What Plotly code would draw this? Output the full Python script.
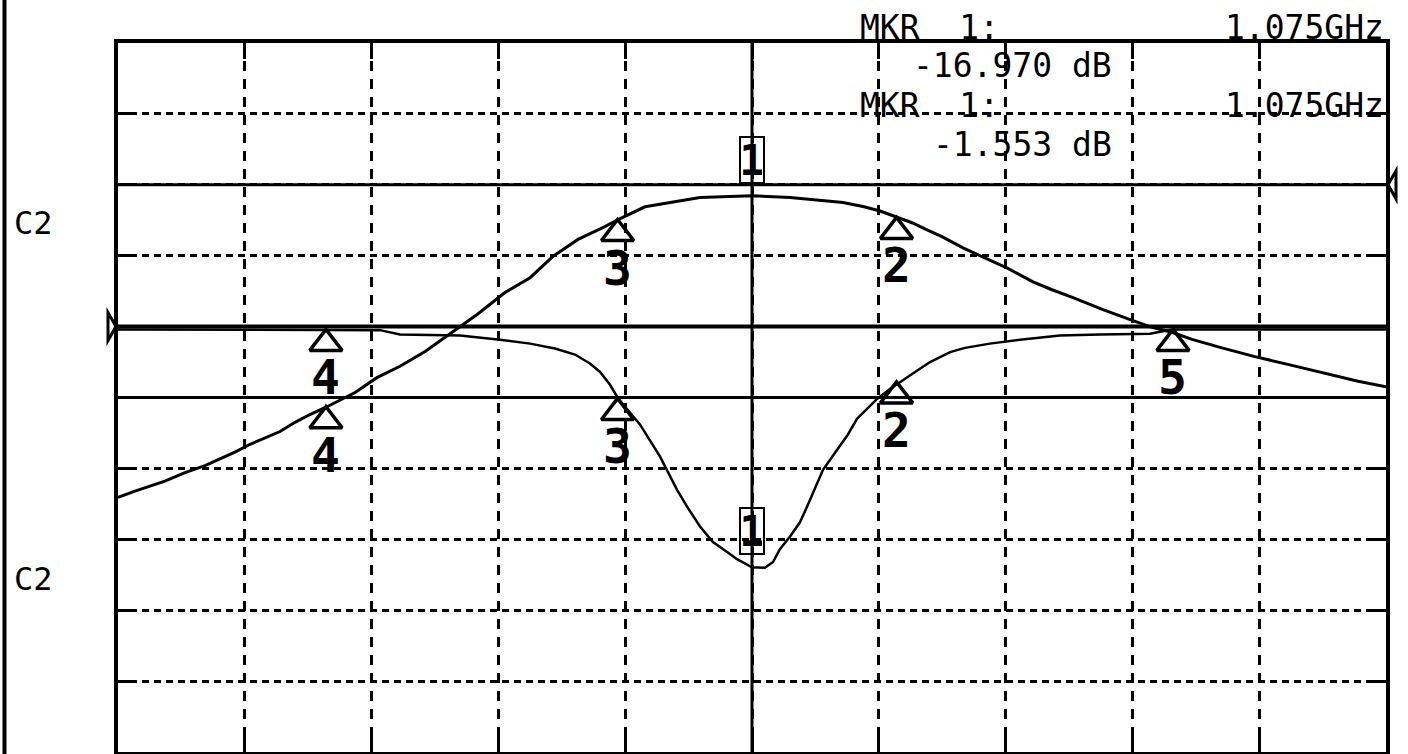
import plotly.graph_objects as go

# sweep: centre 1.075 GHz, 50 MHz/div, 10 divisions
f_start = 0.825
f_stop = 1.325
f_div = 0.05

# upper trace, 10 dB/div, reference 0 dB (right pointer)
up_freq = [0.825, 0.8317, 0.8435, 0.8514, 0.8593, 0.8711, 0.8771, 0.8889, 0.8948, 0.9007,
           0.9074, 0.9185, 0.9271, 0.9362, 0.9461, 0.9571, 0.9666, 0.9776, 0.9875, 0.9965,
           1.0064, 1.0170, 1.0222, 1.0328, 1.0427, 1.0545, 1.075, 1.0900, 1.1109, 1.1192,
           1.1255, 1.1322, 1.1381, 1.1436, 1.1499, 1.1582, 1.1688, 1.1759, 1.1858, 1.1933,
           1.2016, 1.2134, 1.2233, 1.2327, 1.2406, 1.2485, 1.2603, 1.2729, 1.2871, 1.2998,
           1.3140, 1.325]
up_db = [-44.1, -43.2, -41.8, -40.6, -39.6, -37.7, -36.6, -34.8, -33.5, -32.4,
         -31.3, -29.3, -27.2, -25.6, -23.5, -20.7, -18.3, -15.2, -13.1, -10.1,
         -7.7, -5.9, -4.9, -3.1, -2.5, -1.8, -1.553, -1.8, -2.5, -3.1,
         -3.7, -4.6, -5.35, -6.3, -7.3, -8.9, -10.6, -11.8, -13.7, -14.8,
         -15.9, -17.6, -18.9, -20.1, -20.8, -21.8, -23.0, -24.2, -25.4, -26.5,
         -27.7, -28.5]

# lower trace, 5 dB/div, reference 0 dB (left pointer)
lo_freq = [0.825, 0.8771, 0.9283, 0.9362, 0.9599, 0.9756, 0.9875, 0.9973, 1.0052, 1.0111,
           1.0151, 1.0190, 1.0222, 1.0308, 1.0387, 1.0454, 1.0494, 1.0545, 1.0596, 1.0652,
           1.0691, 1.075, 1.0801, 1.0833, 1.0860, 1.0900, 1.0939, 1.0967, 1.0991, 1.1030,
           1.1085, 1.1125, 1.1164, 1.1203, 1.1243, 1.1294, 1.1334, 1.1393, 1.1452, 1.1531,
           1.1590, 1.1688, 1.1807, 1.1964, 1.2122, 1.2319, 1.2406, 1.2714, 1.325]
lo_db = [-0.2, -0.2, -0.25, -0.56, -0.63, -0.92, -1.2, -1.55, -1.97, -2.6,
         -3.2, -4.1, -5.07, -6.9, -9.15, -11.5, -12.7, -14.1, -15.2, -15.9,
         -16.4, -16.97, -17.0, -16.6, -15.7, -14.8, -13.8, -12.7, -11.7, -10.1,
         -8.7, -7.7, -6.5, -5.8, -5.1, -4.4, -3.9, -3.2, -2.5, -1.8,
         -1.5, -1.2, -0.92, -0.63, -0.56, -0.5, -0.2, -0.2, -0.2]

# markers
mkr_id = [1, 2, 3, 4, 5]
mkr_freq = [1.075, 1.132, 1.022, 0.907, 1.241]
mkr_up = [-1.553, -4.6, -4.9, -31.3, None]
mkr_lo = [-16.970, -3.9, -5.07, -0.2, -0.2]

up_range = [-80, 20]
lo_range = [-30, 20]

W, H = 1408, 754
L, R, T, B = 118, 22, 43, 2
plot_w = W - L - R
plot_h = H - T - B


def px_x(px):
    return (px - L) / plot_w


def px_y(py):
    return (H - B - py) / plot_h


tri_size = 28
tri_r = tri_size / 2
up_ppd = plot_h / (up_range[1] - up_range[0])
lo_ppd = plot_h / (lo_range[1] - lo_range[0])

digit_font = dict(family="DejaVu Sans Mono", size=48, color="black", weight="bold")
text_font = dict(family="DejaVu Sans Mono", size=33, color="black")

fig = go.Figure()

fig.add_trace(go.Scatter(x=up_freq, y=up_db, yaxis="y2", mode="lines",
                         line=dict(color="black", width=3), hoverinfo="skip"))
fig.add_trace(go.Scatter(x=lo_freq, y=lo_db, yaxis="y", mode="lines",
                         line=dict(color="black", width=2.5), hoverinfo="skip"))

annotations = []
tri_up_x, tri_up_y, tri_lo_x, tri_lo_y = [], [], [], []
for i, f in enumerate(mkr_freq):
    for val, yref, ppd, xs, ys in [(mkr_up[i], "y2", up_ppd, tri_up_x, tri_up_y),
                                   (mkr_lo[i], "y", lo_ppd, tri_lo_x, tri_lo_y)]:
        if val is None:
            continue
        if mkr_id[i] == 1:
            # active marker: boxed number above the point
            annotations.append(dict(x=f, y=val, xref="x", yref=yref, text="1",
                                    showarrow=False, yanchor="bottom", yshift=12,
                                    width=20, height=42, borderpad=1, borderwidth=2,
                                    bordercolor="black",
                                    font=dict(digit_font, size=42)))
        else:
            xs.append(f)
            ys.append(val - tri_r / ppd)
            annotations.append(dict(x=f, y=val, xref="x", yref=yref, text=str(mkr_id[i]),
                                    showarrow=False, yanchor="top", yshift=-18,
                                    font=digit_font))

tri_marker = dict(symbol="triangle-up-open", size=tri_size, color="black",
                  line=dict(color="black", width=3.5))
fig.add_trace(go.Scatter(x=tri_up_x, y=tri_up_y, yaxis="y2", mode="markers",
                         marker=tri_marker, hoverinfo="skip"))
fig.add_trace(go.Scatter(x=tri_lo_x, y=tri_lo_y, yaxis="y", mode="markers",
                         marker=tri_marker, hoverinfo="skip"))

# marker readout
readout = [
    ("MKR  1:", 858, 27, "left"),
    (f"{mkr_freq[0]:.3f}GHz", 1386, 27, "right"),
    (f"{mkr_lo[0]:.3f} dB", 1114, 66, "right"),
    ("MKR  1:", 858, 106, "left"),
    (f"{mkr_freq[0]:.3f}GHz", 1386, 106, "right"),
    (f"{mkr_up[0]:.3f} dB", 1114, 144, "right"),
    ("C2", 12, 223, "left"),
    ("C2", 12, 579, "left"),
]
for txt, x, y, anchor in readout:
    annotations.append(dict(x=px_x(x), y=px_y(y), xref="paper", yref="paper", text=txt,
                            showarrow=False, xanchor=anchor, yanchor="middle",
                            font=text_font if txt != "C2" else dict(text_font, size=32)))

line = dict(color="black", width=3)
shapes = [
    # centre frequency line
    dict(type="line", xref="x", yref="paper", x0=1.075, x1=1.075, y0=0, y1=1, line=line),
    # reference lines
    dict(type="line", xref="paper", yref="y2", x0=0, x1=1, y0=0, y1=0, line=line),
    dict(type="line", xref="paper", yref="y", x0=0, x1=1, y0=0, y1=0,
         line=dict(color="black", width=4)),
    dict(type="line", xref="paper", yref="y", x0=0, x1=1, y0=-5, y1=-5, line=line),
    # left border of the screen
    dict(type="line", xref="paper", yref="paper", x0=px_x(4.5), x1=px_x(4.5),
         y0=px_y(H + 2), y1=px_y(-2), line=dict(color="black", width=4)),
    # reference pointers
    dict(type="path", xref="paper", yref="y", xsizemode="pixel", ysizemode="pixel",
         xanchor=0, yanchor=0, path="M -10,-14 L -10,14 L -2,0 Z",
         line=dict(color="black", width=3)),
    dict(type="path", xref="paper", yref="y2", xsizemode="pixel", ysizemode="pixel",
         xanchor=1, yanchor=0, path="M 10,-14 L 10,14 L 2,0 Z",
         line=dict(color="black", width=3)),
]

fig.update_layout(
    width=W, height=H,
    margin=dict(l=L, r=R, t=T, b=B),
    paper_bgcolor="white", plot_bgcolor="white",
    showlegend=False,
    annotations=annotations,
    shapes=shapes,
    xaxis=dict(range=[f_start, f_stop], tick0=f_start, dtick=f_div,
               showgrid=True, gridcolor="black", gridwidth=3, griddash="10px,8px",
               ticks="inside", ticklen=16, tickwidth=3, tickcolor="black",
               showticklabels=False, showline=True, linewidth=4, linecolor="black",
               mirror="ticks", zeroline=False, fixedrange=True),
    yaxis=dict(range=lo_range, tick0=0, dtick=5,
               showgrid=True, gridcolor="black", gridwidth=3, griddash="7px,5px",
               ticks="inside", ticklen=16, tickwidth=3, tickcolor="black",
               showticklabels=False, showline=True, linewidth=4, linecolor="black",
               mirror="ticks", zeroline=False, fixedrange=True),
    yaxis2=dict(range=up_range, overlaying="y", visible=False, fixedrange=True),
)

# the page body has a default 8px margin; drop it so the figure sits at the corner
fig.write_html("out.html", config={"displayModeBar": False},
               post_script="document.body.style.margin='0';")
